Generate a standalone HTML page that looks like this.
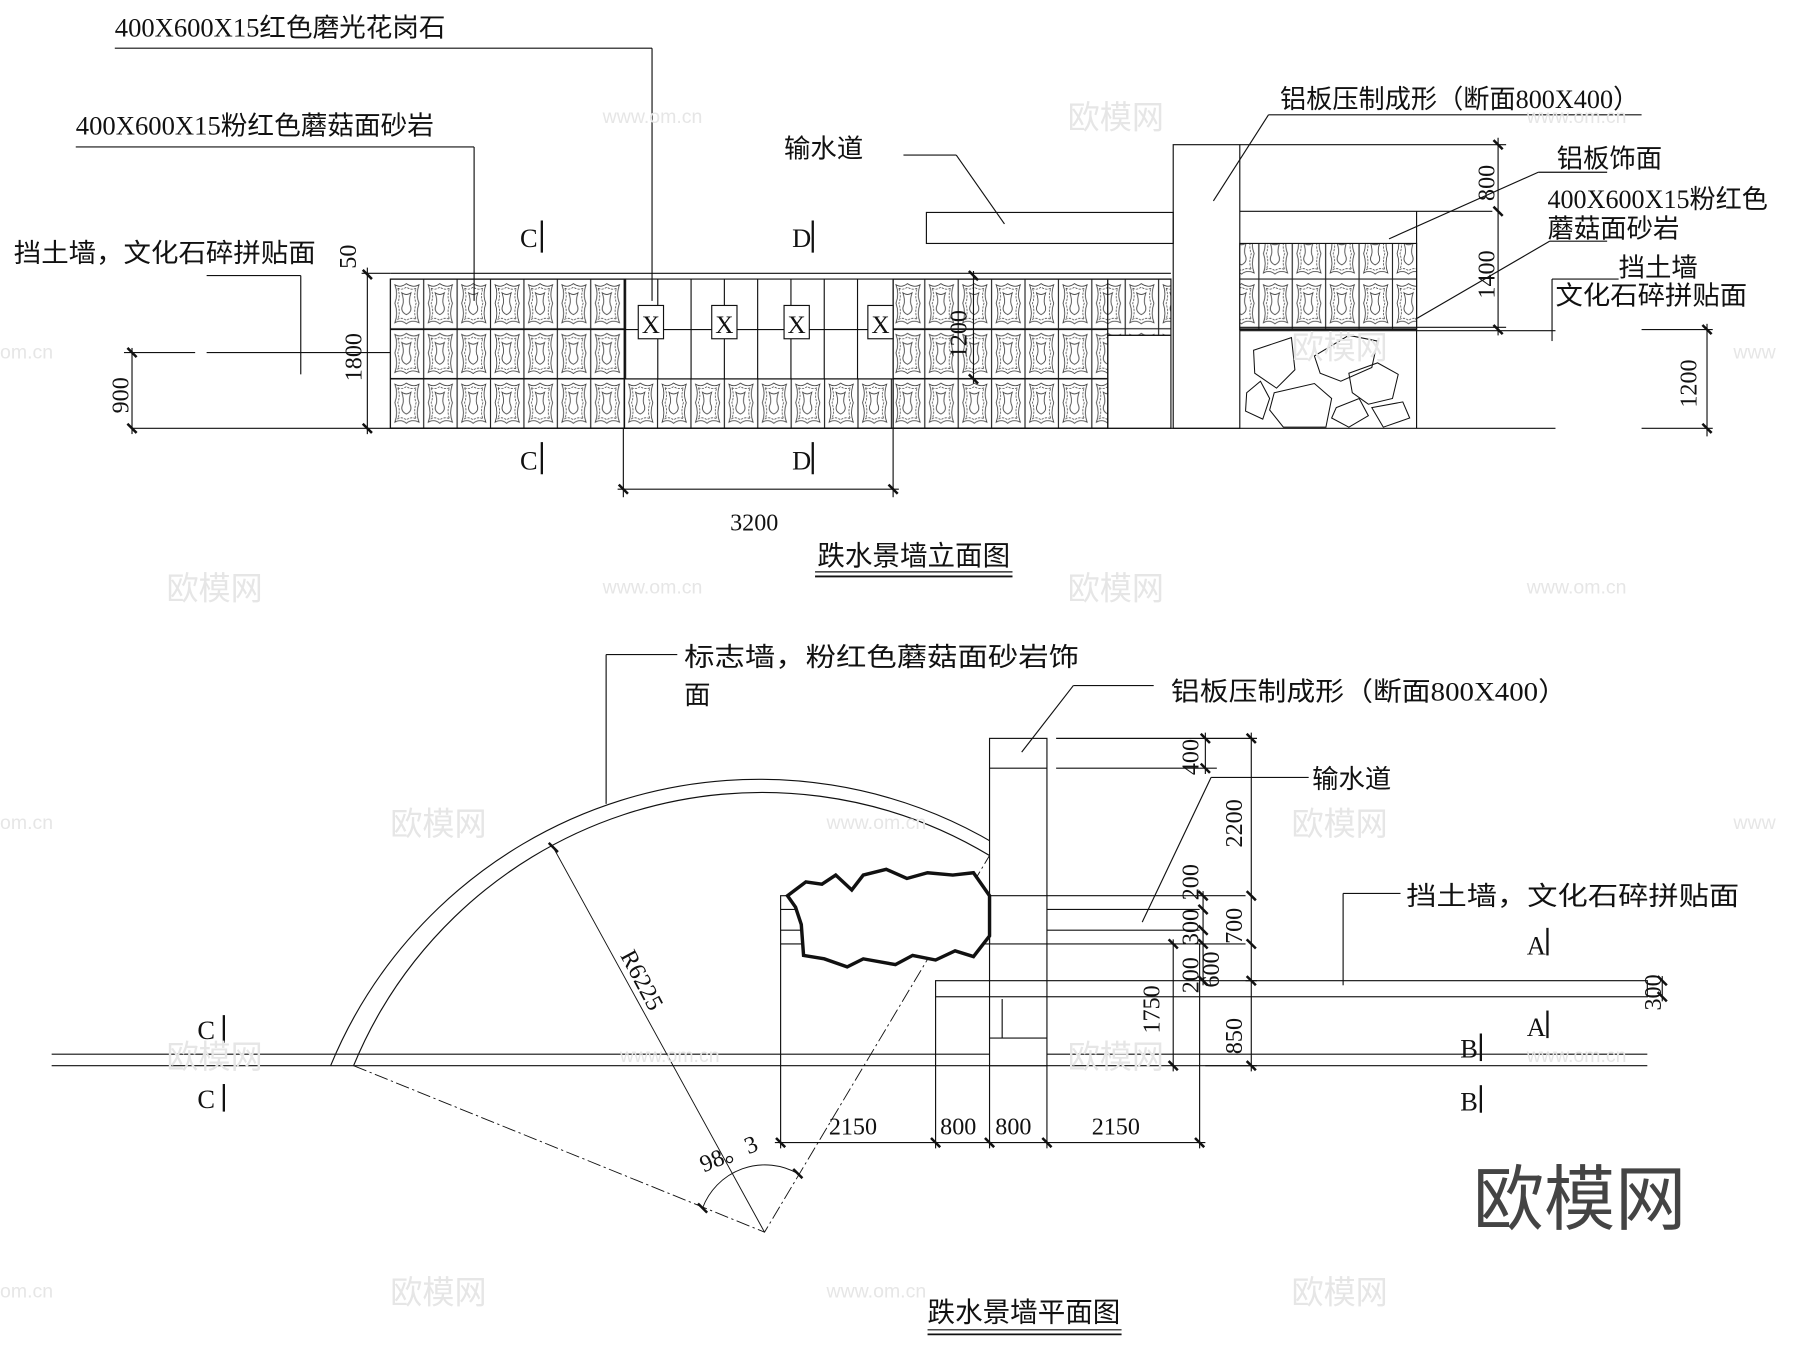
<!DOCTYPE html>
<html><head><meta charset="utf-8"><style>
html,body{margin:0;padding:0;background:#fff;}
svg{display:block}
text{font-family:"Liberation Serif","Noto Sans CJK SC",serif;fill:#111;}
.wm{fill:#e6e6e6;font-family:"Liberation Sans","Noto Sans CJK SC",sans-serif;}
</style></head><body>
<svg width="1800" height="1347" viewBox="0 0 1568 1173" preserveAspectRatio="none" xmlns="http://www.w3.org/2000/svg">
<defs>
<pattern id="tile" patternUnits="userSpaceOnUse" x="340" y="243" width="29.1" height="43.3">
<rect x="0" y="0" width="29.1" height="43.3" fill="#fff" stroke="#222" stroke-width="1"/>
<path d="M4 5 Q9 8 14 4 Q20 8 25 5 Q22 14 25 21 Q22 30 25 38 Q19 35 14 39 Q9 35 4 38 Q7 30 4 21 Q7 13 4 5Z" fill="none" stroke="#333" stroke-width="0.7"/>
<path d="M6.5 8 Q10 10 14 7 Q18 10 22.5 8 Q20 15 22.5 21 Q20 29 22.5 35 Q18 33 14 36 Q10 33 6.5 35 Q9 29 6.5 21 Q9 15 6.5 8Z" fill="none" stroke="#333" stroke-width="0.6" stroke-dasharray="2 1"/>
<path d="M10 12 Q14 15 18 12 Q16 18 17 22 Q20 28 14 31 Q8 28 11 22 Q12 18 10 12Z" fill="none" stroke="#333" stroke-width="0.7"/>
</pattern>
</defs>
<g stroke="#111" stroke-width="1" fill="none">
<line x1="340" y1="238" x2="1020" y2="238"/>
<rect x="340" y="243" width="205" height="130" fill="url(#tile)"/>
<rect x="544" y="330" width="234" height="43" fill="url(#tile)"/>
<rect x="778" y="243" width="187" height="130" fill="url(#tile)"/>
<rect x="965" y="243" width="55" height="49" fill="url(#tile)"/>
<rect x="965" y="292" width="55" height="81"/>
<line x1="340" y1="243" x2="1020" y2="243"/>
<line x1="340" y1="287" x2="965" y2="287"/>
<line x1="340" y1="330" x2="965" y2="330"/>
<line x1="340" y1="373" x2="965" y2="373"/>
<line x1="573" y1="243" x2="573" y2="330"/><line x1="602" y1="243" x2="602" y2="330"/>
<line x1="631" y1="243" x2="631" y2="330"/><line x1="660" y1="243" x2="660" y2="330"/>
<line x1="689" y1="243" x2="689" y2="330"/><line x1="718" y1="243" x2="718" y2="330"/>
<line x1="747" y1="243" x2="747" y2="330"/><line x1="778" y1="243" x2="778" y2="373"/><line x1="544" y1="243" x2="544" y2="373"/>
<g fill="#fff"><rect x="556" y="266" width="22" height="29"/><rect x="620" y="266" width="22" height="29"/><rect x="683" y="266" width="22" height="29"/><rect x="756" y="266" width="22" height="29"/></g>
<rect x="1022" y="126" width="58" height="247"/>
<rect x="807" y="185" width="215" height="27"/>
<line x1="1080" y1="126" x2="1312" y2="126"/>
<line x1="1080" y1="184" x2="1300" y2="184"/>
<line x1="1234" y1="184" x2="1234" y2="373"/>
<rect x="1080" y="212" width="154" height="75" fill="url(#tile)"/>
<line x1="1080" y1="285" x2="1312" y2="285"/><line x1="1080" y1="288" x2="1355" y2="288"/>
<g stroke-width="0.9">
<path d="M1092 305 L1125 294 L1128 322 L1112 338 L1093 325Z"/>
<path d="M1145 310 L1175 292 L1200 297 L1195 320 L1168 332 L1150 325Z"/>
<path d="M1086 342 L1098 332 L1106 347 L1100 365 L1085 358Z"/>
<path d="M1110 342 L1145 334 L1160 347 L1155 372 L1118 372 L1106 357Z"/>
<path d="M1175 325 L1200 316 L1218 326 L1213 347 L1192 352 L1178 342Z"/>
<path d="M1164 355 L1184 347 L1192 362 L1175 372 L1160 364Z"/>
<path d="M1195 355 L1222 350 L1228 364 L1205 372Z"/>
</g>
<line x1="115" y1="373" x2="1355" y2="373"/><line x1="1430" y1="373" x2="1492" y2="373"/>
<line x1="1430" y1="287" x2="1492" y2="287"/>
<line x1="320" y1="233" x2="320" y2="378"/>
<line x1="315" y1="238" x2="340" y2="238"/>
<line x1="115" y1="303" x2="115" y2="378"/>
<line x1="108" y1="307" x2="170" y2="307"/><line x1="180" y1="307" x2="340" y2="307"/>
<line x1="848" y1="236" x2="848" y2="334"/>
<line x1="543" y1="373" x2="543" y2="433"/><line x1="778" y1="373" x2="778" y2="433"/>
<line x1="538" y1="426" x2="783" y2="426"/>
<line x1="1305" y1="120" x2="1305" y2="292"/>
<line x1="1487" y1="282" x2="1487" y2="380"/>
<g stroke-width="2.2">
<line x1="316" y1="235" x2="324" y2="243"/><line x1="316" y1="369" x2="324" y2="377"/>
<line x1="111" y1="303" x2="119" y2="311"/><line x1="111" y1="369" x2="119" y2="377"/>
<line x1="844" y1="236" x2="852" y2="244"/><line x1="844" y1="326" x2="852" y2="334"/>
<line x1="539" y1="422" x2="547" y2="430"/><line x1="774" y1="422" x2="782" y2="430"/>
<line x1="1301" y1="122" x2="1309" y2="130"/><line x1="1301" y1="180" x2="1309" y2="188"/><line x1="1301" y1="283" x2="1309" y2="291"/>
<line x1="1483" y1="283" x2="1491" y2="291"/><line x1="1483" y1="369" x2="1491" y2="377"/>
</g>
<line x1="100" y1="42" x2="568" y2="42"/><line x1="568" y1="42" x2="568" y2="262"/>
<line x1="66" y1="128" x2="413" y2="128"/><line x1="413" y1="128" x2="413" y2="262"/>
<line x1="180" y1="240" x2="262" y2="240"/><line x1="262" y1="240" x2="262" y2="326"/>
<line x1="787" y1="135" x2="833" y2="135"/><line x1="833" y1="135" x2="875" y2="195"/>
<line x1="1105" y1="100" x2="1430" y2="100"/><line x1="1105" y1="100" x2="1057" y2="175"/>
<line x1="1340" y1="150" x2="1400" y2="150"/><line x1="1340" y1="150" x2="1210" y2="208"/>
<line x1="1350" y1="210" x2="1400" y2="210"/><line x1="1350" y1="210" x2="1233" y2="278"/>
<line x1="1352" y1="243" x2="1410" y2="243"/><line x1="1352" y1="243" x2="1352" y2="297"/>
<g stroke-width="2"><line x1="472" y1="192" x2="472" y2="220"/><line x1="472" y1="385" x2="472" y2="413"/>
<line x1="708" y1="192" x2="708" y2="220"/><line x1="708" y1="385" x2="708" y2="413"/></g>
<line x1="710" y1="498" x2="882" y2="498"/><line x1="710" y1="502" x2="882" y2="502" stroke-width="1.6"/>

<line x1="45" y1="918" x2="862" y2="918"/><line x1="45" y1="928" x2="1435" y2="928"/>
<line x1="912" y1="918" x2="1435" y2="918"/>
<path d="M288 928 A404 404 0 0 1 880 743 L880 780"/>
<path d="M308 928 A385 385 0 0 1 862 745"/>
<line x1="880" y1="822" x2="880" y2="854"/>
<path d="M308 928 L666 1073 L862 745" stroke-dasharray="12 3 2 3" stroke-width="0.8"/>
<line x1="482" y1="738" x2="666" y2="1073" stroke-width="0.8"/>
<path d="M612 1052 A58 58 0 0 1 695 1022" stroke-width="0.8"/>
<rect x="862" y="643" width="50" height="285" fill="#fff"/>
<line x1="862" y1="669" x2="912" y2="669"/>
<line x1="862" y1="904" x2="912" y2="904"/>
<line x1="873" y1="870" x2="873" y2="904"/>
<rect x="680" y="780" width="182" height="42"/>
<line x1="680" y1="792" x2="862" y2="792"/><line x1="680" y1="810" x2="862" y2="810"/>
<line x1="912" y1="780" x2="1085" y2="780"/><line x1="912" y1="792" x2="1045" y2="792"/>
<line x1="912" y1="810" x2="1045" y2="810"/><line x1="912" y1="822" x2="1085" y2="822"/>
<rect x="815" y="854" width="620" height="14"/>
<line x1="862" y1="780" x2="912" y2="780"/><line x1="862" y1="822" x2="912" y2="822"/>
<path d="M686 780 L702 768 L716 770 L728 762 L742 775 L752 762 L772 757 L790 765 L808 760 L830 762 L848 760 L862 780 L862 800 L862 815 L848 833 L832 828 L815 836 L795 832 L780 840 L752 835 L738 842 L718 835 L700 832 L698 805 L693 790 Z" stroke-width="3" fill="#fff"/>
<line x1="680" y1="822" x2="680" y2="1000"/><line x1="815" y1="868" x2="815" y2="1000"/>
<line x1="862" y1="928" x2="862" y2="1000"/><line x1="912" y1="928" x2="912" y2="1000"/>
<line x1="1045" y1="822" x2="1045" y2="1000"/>
<line x1="675" y1="995" x2="1050" y2="995"/>
<line x1="920" y1="643" x2="1095" y2="643"/><line x1="920" y1="669" x2="1060" y2="669"/>
<line x1="1090" y1="638" x2="1090" y2="933"/>
<line x1="1050" y1="638" x2="1050" y2="674"/>
<line x1="1048" y1="776" x2="1048" y2="858"/>
<line x1="1022" y1="818" x2="1022" y2="933"/>
<line x1="1050" y1="928" x2="1095" y2="928"/>
<line x1="1085" y1="854" x2="1095" y2="854"/>
<line x1="1448" y1="850" x2="1448" y2="872"/>
<g stroke-width="2.2">
<line x1="676" y1="991" x2="684" y2="999"/><line x1="811" y1="991" x2="819" y2="999"/><line x1="858" y1="991" x2="866" y2="999"/><line x1="908" y1="991" x2="916" y2="999"/><line x1="1041" y1="991" x2="1049" y2="999"/>
<line x1="1086" y1="639" x2="1094" y2="647"/><line x1="1086" y1="776" x2="1094" y2="784"/><line x1="1086" y1="818" x2="1094" y2="826"/><line x1="1086" y1="850" x2="1094" y2="858"/><line x1="1086" y1="924" x2="1094" y2="932"/>
<line x1="1046" y1="639" x2="1054" y2="647"/><line x1="1046" y1="665" x2="1054" y2="673"/>
<line x1="1044" y1="776" x2="1052" y2="784"/><line x1="1044" y1="788" x2="1052" y2="796"/><line x1="1044" y1="806" x2="1052" y2="814"/><line x1="1044" y1="818" x2="1052" y2="826"/><line x1="1044" y1="850" x2="1052" y2="858"/>
<line x1="1018" y1="818" x2="1026" y2="826"/><line x1="1018" y1="924" x2="1026" y2="932"/>
<line x1="1444" y1="850" x2="1452" y2="858"/><line x1="1444" y1="864" x2="1452" y2="872"/>
<line x1="478" y1="734" x2="486" y2="742"/><line x1="608" y1="1048" x2="616" y2="1056"/><line x1="691" y1="1018" x2="699" y2="1026"/>
</g>
<line x1="528" y1="570" x2="590" y2="570"/><line x1="528" y1="570" x2="528" y2="700"/>
<line x1="935" y1="597" x2="1005" y2="597"/><line x1="935" y1="597" x2="890" y2="655"/>
<line x1="1055" y1="677" x2="1140" y2="677"/><line x1="1055" y1="677" x2="995" y2="803"/>
<line x1="1170" y1="778" x2="1220" y2="778"/><line x1="1170" y1="778" x2="1170" y2="858"/>
<g stroke-width="2"><line x1="195" y1="884" x2="195" y2="908"/><line x1="195" y1="944" x2="195" y2="968"/>
<line x1="1348" y1="808" x2="1348" y2="832"/><line x1="1348" y1="880" x2="1348" y2="904"/>
<line x1="1290" y1="900" x2="1290" y2="924"/><line x1="1290" y1="945" x2="1290" y2="969"/></g>
<line x1="808" y1="1158" x2="977" y2="1158"/><line x1="808" y1="1162" x2="977" y2="1162" stroke-width="1.6"/>
</g>
<g font-size="22" text-anchor="middle"><text x="567" y="290">X</text><text x="631" y="290">X</text><text x="694" y="290">X</text><text x="767" y="290">X</text></g>
<g font-size="23">
<text x="100" y="32" textLength="288" lengthAdjust="spacingAndGlyphs">400X600X15红色磨光花岗石</text>
<text x="66" y="117" textLength="312" lengthAdjust="spacingAndGlyphs">400X600X15粉红色蘑菇面砂岩</text>
<text x="12" y="228" textLength="263" lengthAdjust="spacingAndGlyphs">挡土墙，文化石碎拼贴面</text>
<text x="683" y="137">输水道</text>
<text x="1115" y="94" textLength="313" lengthAdjust="spacingAndGlyphs">铝板压制成形（断面800X400）</text>
<text x="1356" y="146">铝板饰面</text>
<text x="1348" y="181" textLength="192" lengthAdjust="spacingAndGlyphs">400X600X15粉红色</text>
<text x="1348" y="207">蘑菇面砂岩</text>
<text x="1410" y="241">挡土墙</text>
<text x="1355" y="265" textLength="167" lengthAdjust="spacingAndGlyphs">文化石碎拼贴面</text>
<text x="453" y="215">C</text><text x="453" y="409">C</text><text x="690" y="215">D</text><text x="690" y="409">D</text>
</g>
<text x="636" y="462" font-size="21">3200</text>
<text x="712" y="492" font-size="24">跌水景墙立面图</text>
<g font-size="21">
<text transform="translate(310,234) rotate(-90)">50</text>
<text transform="translate(315,332) rotate(-90)">1800</text>
<text transform="translate(112,360) rotate(-90)">900</text>
<text transform="translate(842,312) rotate(-90)">1200</text>
<text transform="translate(1302,175) rotate(-90)">800</text>
<text transform="translate(1302,260) rotate(-90)">1400</text>
<text transform="translate(1478,355) rotate(-90)">1200</text>
</g>
<g font-size="23">
<text x="596" y="580" textLength="344" lengthAdjust="spacingAndGlyphs">标志墙，粉红色蘑菇面砂岩饰</text>
<text x="596" y="613">面</text>
<text x="1020" y="610" textLength="345" lengthAdjust="spacingAndGlyphs">铝板压制成形（断面800X400）</text>
<text x="1143" y="686">输水道</text>
<text x="1225" y="788" textLength="290" lengthAdjust="spacingAndGlyphs">挡土墙，文化石碎拼贴面</text>
<text x="172" y="905">C</text><text x="172" y="965">C</text>
<text x="1330" y="831">A</text><text x="1330" y="902">A</text>
<text x="1272" y="921">B</text><text x="1272" y="967">B</text>
</g>
<g font-size="21">
<text x="722" y="988">2150</text><text x="819" y="988">800</text><text x="867" y="988">800</text><text x="951" y="988">2150</text>
<text transform="translate(540,832) rotate(62)">R6225</text>
<text transform="translate(613,1021) rotate(-22)">98。3</text>
<text transform="translate(1044,675) rotate(-90)">400</text>
<text transform="translate(1082,738) rotate(-90)">2200</text>
<text transform="translate(1044,784) rotate(-90)">200</text>
<text transform="translate(1044,823) rotate(-90)">300</text>
<text transform="translate(1082,822) rotate(-90)">700</text>
<text transform="translate(1062,860) rotate(-90)">600</text>
<text transform="translate(1044,865) rotate(-90)">200</text>
<text transform="translate(1010,900) rotate(-90)">1750</text>
<text transform="translate(1082,918) rotate(-90)">850</text>
<text transform="translate(1447,880) rotate(-90)">300</text>
</g>
<text x="808" y="1151" font-size="24">跌水景墙平面图</text>
<text x="1283" y="1066" font-size="62" style="fill:#444;font-family:'Liberation Sans','Noto Sans CJK SC',sans-serif">欧模网</text>
<g font-size="28" class="wm">
<text x="145" y="522" class="wm">欧模网</text><text x="930" y="522" class="wm">欧模网</text><text x="930" y="112" class="wm">欧模网</text>
<text x="1125" y="727" class="wm">欧模网</text><text x="340" y="727" class="wm">欧模网</text><text x="1125" y="312" class="wm">欧模网</text>
<text x="145" y="930" class="wm">欧模网</text><text x="930" y="930" class="wm">欧模网</text><text x="340" y="1135" class="wm">欧模网</text><text x="1125" y="1135" class="wm">欧模网</text>
</g>
<g font-size="17" class="wm">
<text x="525" y="107" class="wm">www.om.cn</text><text x="1330" y="107" class="wm">www.om.cn</text>
<text x="525" y="517" class="wm">www.om.cn</text><text x="1330" y="517" class="wm">www.om.cn</text>
<text x="720" y="722" class="wm">www.om.cn</text><text x="540" y="925" class="wm">www.om.cn</text>
<text x="1330" y="925" class="wm">www.om.cn</text><text x="720" y="1130" class="wm">www.om.cn</text>
<text x="0" y="312" class="wm">om.cn</text><text x="0" y="722" class="wm">om.cn</text><text x="0" y="1130" class="wm">om.cn</text>
<text x="1510" y="312" class="wm">www</text><text x="1510" y="722" class="wm">www</text>
</g>
</svg>
</body></html>
